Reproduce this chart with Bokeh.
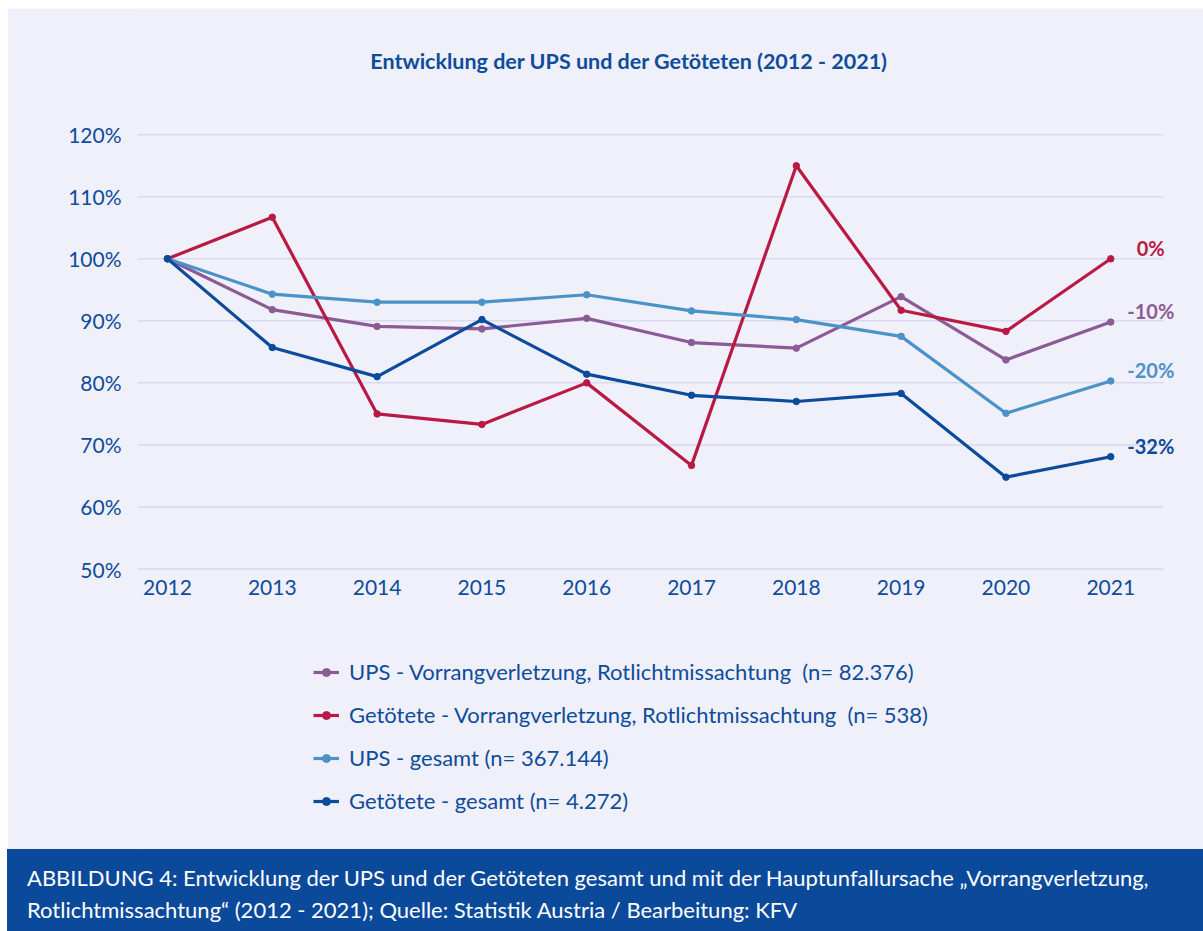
from bokeh.plotting import figure
from bokeh.models import Legend, LegendItem, Label, FixedTicker, Div, PrintfTickFormatter
from bokeh.layouts import column
from bokeh.embed import file_html
from bokeh.resources import INLINE

years = [2012, 2013, 2014, 2015, 2016, 2017, 2018, 2019, 2020, 2021]
ups_vorrang = [100, 91.8, 89.1, 88.7, 90.4, 86.5, 85.6, 93.9, 83.7, 89.8]
tote_vorrang = [100, 106.7, 75.0, 73.3, 80.0, 66.7, 115.0, 91.7, 88.3, 100.0]
ups_gesamt = [100, 94.3, 93.0, 93.0, 94.2, 91.6, 90.2, 87.5, 75.1, 80.3]
tote_gesamt = [100, 85.7, 81.0, 90.2, 81.4, 78.0, 77.0, 78.3, 64.8, 68.1]

series_names = [
    "UPS - Vorrangverletzung, Rotlichtmissachtung  (n= 82.376)",
    "Getötete - Vorrangverletzung, Rotlichtmissachtung  (n= 538)",
    "UPS - gesamt (n= 367.144)",
    "Getötete - gesamt (n= 4.272)",
]
end_labels = ["-10%", "0%", "-20%", "-32%"]
y_ticks = [50, 60, 70, 80, 90, 100, 110, 120]

title_text = "Entwicklung der UPS und der Getöteten (2012 - 2021)"
footer_line1 = "ABBILDUNG 4: Entwicklung der UPS und der Getöteten gesamt und mit der Hauptunfallursache „Vorrangverletzung,"
footer_line2 = "Rotlichtmissachtung“ (2012 - 2021); Quelle: Statistik Austria / Bearbeitung: KFV"

colors = ["#8b5b95", "#b81a44", "#4b92c9", "#0a4b9b"]
text_color = "#0e4c9c"
bg = "#eff0f9"
FONT = "Lato"

# axis extents (the plotting area also hosts the title above and the legend below)
X_START, X_END, GRID_END = 2011.714, 2021.885, 2021.504
Y_START, Y_END = 4.79, 140.34

p = figure(width=1196, height=841, output_backend="svg", toolbar_location=None,
           x_range=(X_START, X_END), y_range=(Y_START, Y_END),
           min_border_left=130, min_border_right=0, min_border_top=0, min_border_bottom=0,
           margin=(8, 0, 0, 7))
p.background_fill_color = bg
p.border_fill_color = bg
p.outline_line_color = None

p.add_layout(Label(x=(years[0] + years[-1]) / 2, y=Y_END, text=title_text,
                   x_offset=-10, y_offset=-52, text_align="center", text_baseline="middle",
                   text_font=FONT, text_font_size="21.5px", text_font_style="bold",
                   text_color=text_color))

p.xgrid.grid_line_color = None
p.ygrid.grid_line_color = None
p.segment(x0=X_START, x1=GRID_END, y0=y_ticks, y1=y_ticks, line_color="#d9daf1", line_width=1.5)

p.yaxis.ticker = FixedTicker(ticks=y_ticks)
p.yaxis.formatter = PrintfTickFormatter(format="%d%%")
p.xaxis.ticker = FixedTicker(ticks=years)
p.xaxis.fixed_location = y_ticks[0]
for ax in (p.xaxis[0], p.yaxis[0]):
    ax.axis_line_color = None
    ax.major_tick_line_color = None
    ax.minor_tick_line_color = None
    ax.major_label_text_font = FONT
    ax.major_label_text_font_size = "21px"
    ax.major_label_text_color = text_color
p.yaxis.major_label_standoff = 10
p.xaxis.major_label_standoff = 5

all_series = [ups_vorrang, tote_vorrang, ups_gesamt, tote_gesamt]
items = []
for name, ys, c in zip(series_names, all_series, colors):
    r1 = p.line(years, ys, line_color=c, line_width=3.2)
    r2 = p.scatter(years, ys, size=6.5, fill_color=c, line_color=c)
    items.append(LegendItem(label=name, renderers=[r1, r2]))

for lab, ys, c in zip(end_labels, all_series, colors):
    p.add_layout(Label(x=years[-1], y=ys[-1], text=lab, x_offset=40, y_offset=11,
                       text_align="center", text_baseline="middle",
                       text_font=FONT, text_font_size="20px", text_font_style="bold",
                       text_color=c))

legend = Legend(items=items, location=(170, 29), margin=0, padding=6,
                label_text_font=FONT, label_text_font_size="22px",
                label_text_color=text_color, label_height=20, glyph_height=20,
                glyph_width=26, spacing=16, label_standoff=10,
                background_fill_alpha=0, border_line_alpha=0)
p.add_layout(legend, "center")

footer = Div(text=('<div style="padding:13px 0 0 20px; line-height:32px; font-size:22px; '
                   'color:#ffffff; font-family:Lato; white-space:nowrap;">'
                   + footer_line1 + '<br>' + footer_line2 + '</div>'),
             width=1196, height=82, margin=(0, 0, 0, 7),
             styles={"background-color": "#0b4a9b"})

layout = column(p, footer, spacing=0)
open("out.html", "w").write(file_html(layout, INLINE))
